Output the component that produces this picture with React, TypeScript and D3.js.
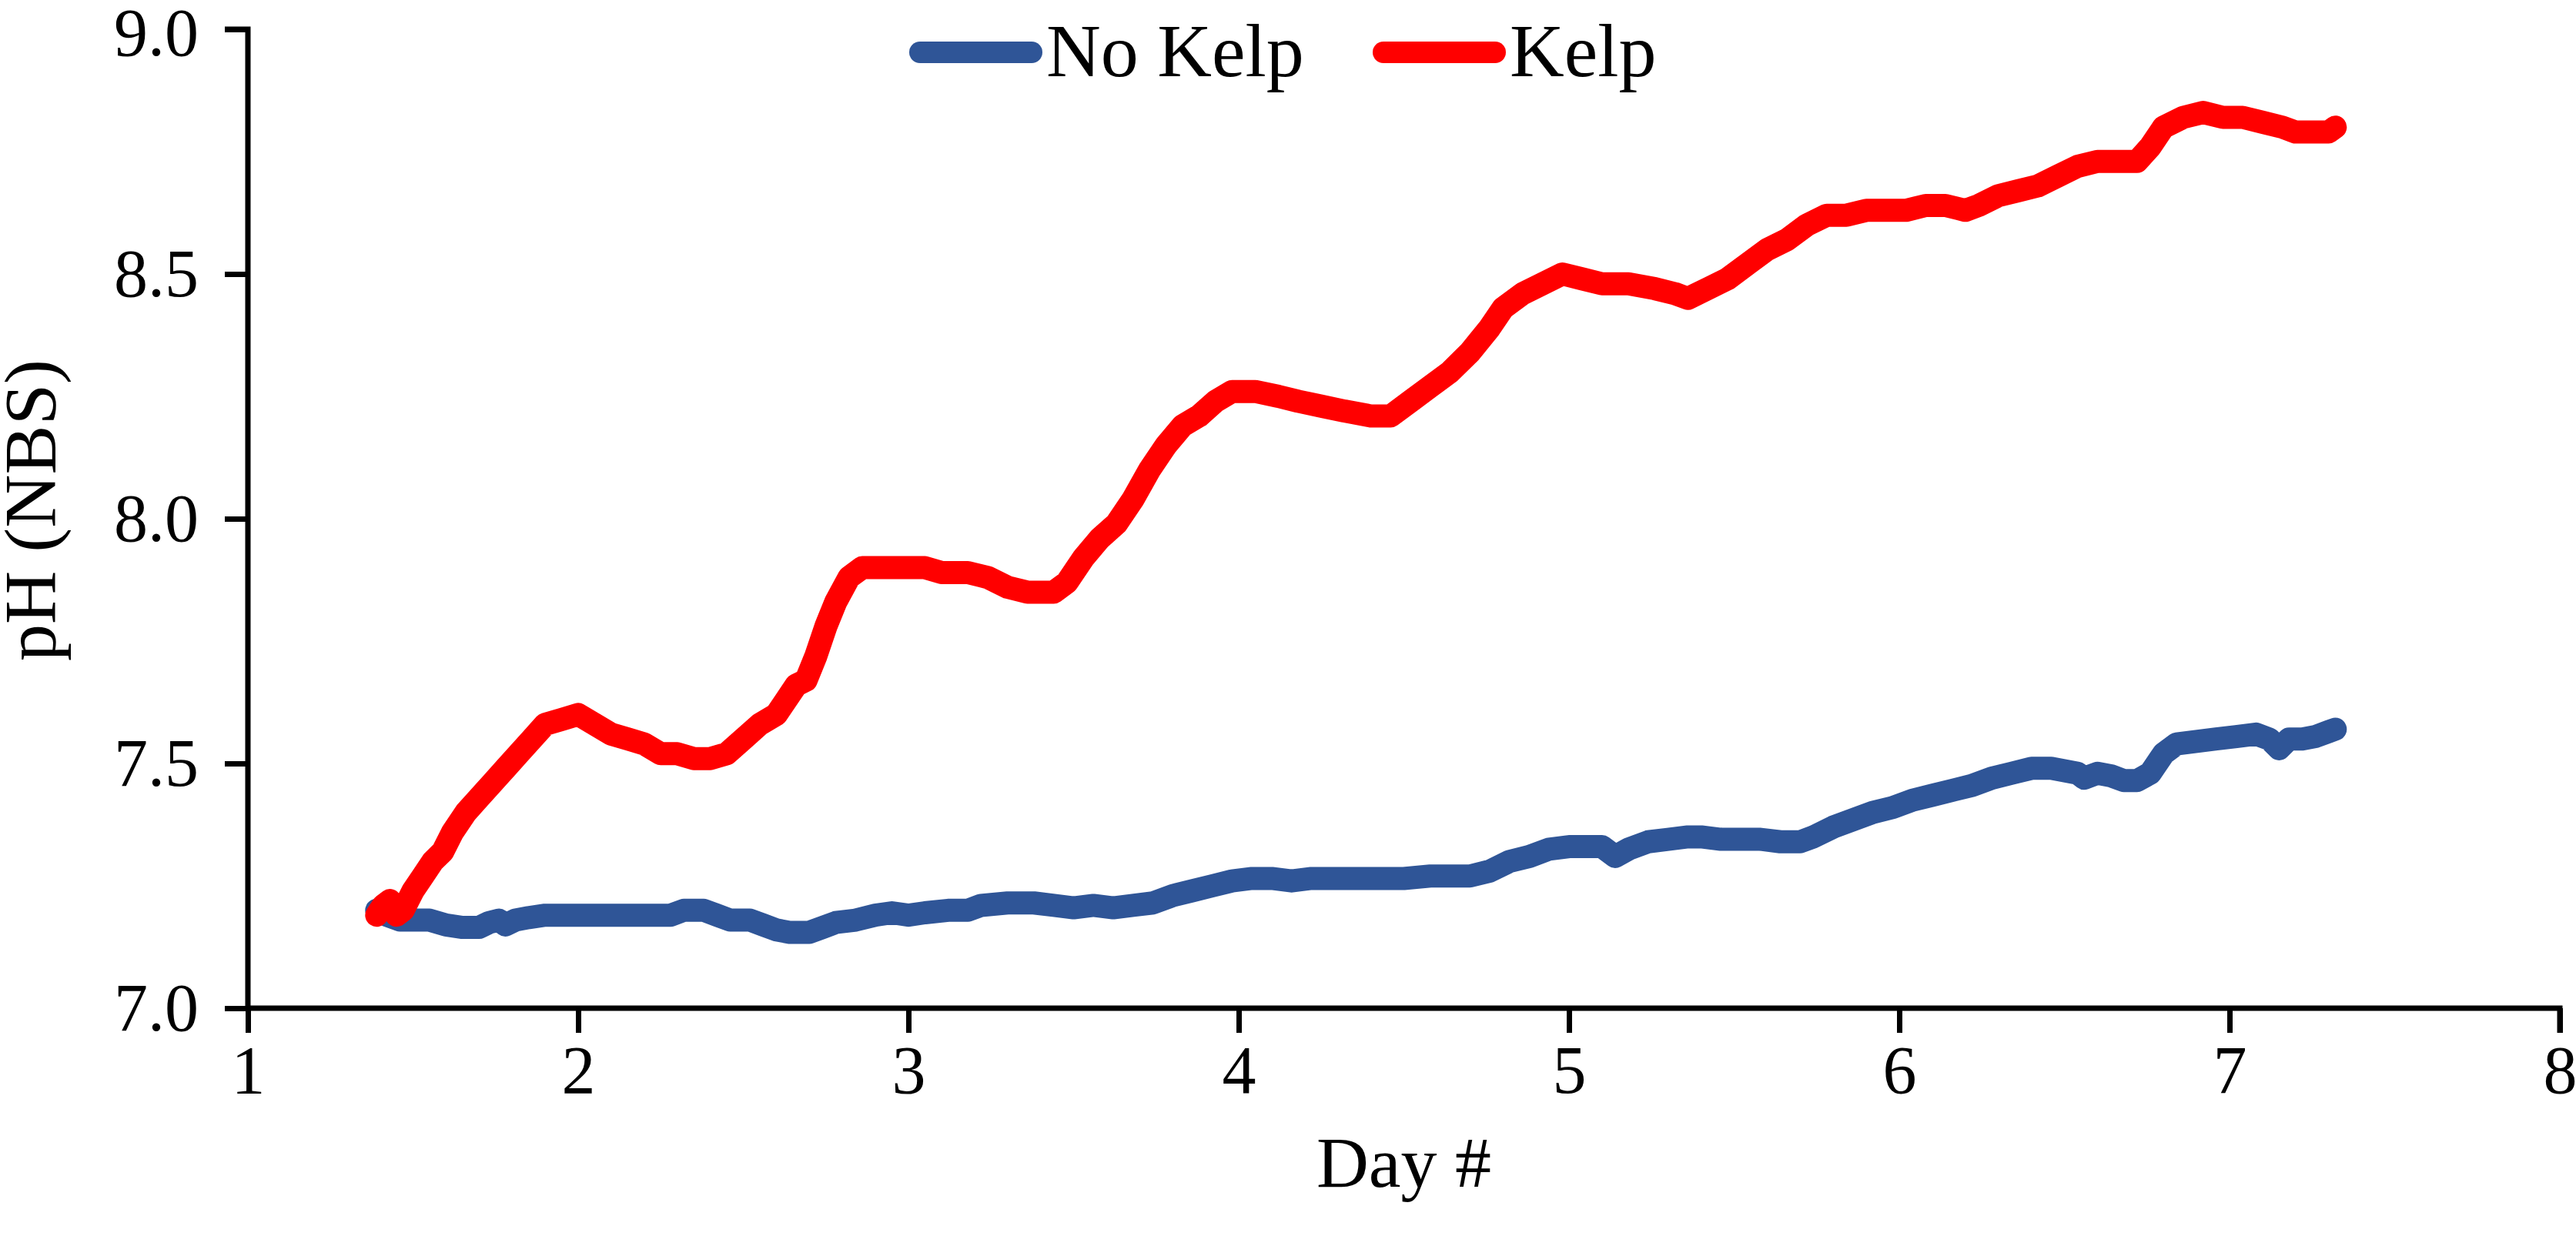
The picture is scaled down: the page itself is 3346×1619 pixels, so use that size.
import React, { useEffect, useRef } from 'react';
import * as d3 from 'd3';

// Kelp series (day, pH)
const kelpDays = [
  1.39, 1.41, 1.43, 1.45, 1.47, 1.5, 1.53, 1.56, 1.59, 1.62, 1.66, 1.7, 1.74, 1.78, 1.82, 1.86, 1.9, 1.95,
  2.0, 2.05, 2.1, 2.15, 2.2, 2.25, 2.3, 2.35, 2.4, 2.45, 2.5, 2.55, 2.6, 2.63, 2.66, 2.69, 2.72, 2.75, 2.78,
  2.82, 2.86, 2.92, 3.0, 3.05, 3.1, 3.18, 3.24, 3.3, 3.36, 3.44, 3.48, 3.53, 3.58, 3.63, 3.68, 3.73, 3.78,
  3.83, 3.88, 3.93, 3.98, 4.05, 4.12, 4.18, 4.25, 4.32, 4.4, 4.46, 4.52, 4.58, 4.64, 4.7, 4.76, 4.8, 4.86,
  4.92, 4.98, 5.04, 5.1, 5.18, 5.26, 5.32, 5.36, 5.42, 5.48, 5.54, 5.6, 5.66, 5.72, 5.78, 5.84, 5.9, 5.96,
  6.02, 6.08, 6.14, 6.2, 6.24, 6.3, 6.36, 6.42, 6.48, 6.54, 6.6, 6.66, 6.72, 6.76, 6.8, 6.86, 6.92, 6.98,
  7.04, 7.1, 7.16, 7.2, 7.26, 7.3, 7.32,
];
const kelpPH = [
  7.19, 7.21, 7.22, 7.19, 7.2, 7.24, 7.27, 7.3, 7.32, 7.36, 7.4, 7.43, 7.46, 7.49, 7.52, 7.55, 7.58, 7.59,
  7.6, 7.58, 7.56, 7.55, 7.54, 7.52, 7.52, 7.51, 7.51, 7.52, 7.55, 7.58, 7.6, 7.63, 7.66, 7.67, 7.72, 7.78, 7.83,
  7.88, 7.9, 7.9, 7.9, 7.9, 7.89, 7.89, 7.88, 7.86, 7.85, 7.85, 7.87, 7.92, 7.96, 7.99, 8.04, 8.1, 8.15,
  8.19, 8.21, 8.24, 8.26, 8.26, 8.25, 8.24, 8.23, 8.22, 8.21, 8.21, 8.24, 8.27, 8.3, 8.34, 8.39, 8.43, 8.46,
  8.48, 8.5, 8.49, 8.48, 8.48, 8.47, 8.46, 8.45, 8.47, 8.49, 8.52, 8.55, 8.57, 8.6, 8.62, 8.62, 8.63, 8.63,
  8.63, 8.64, 8.64, 8.63, 8.64, 8.66, 8.67, 8.68, 8.7, 8.72, 8.73, 8.73, 8.73, 8.76, 8.8, 8.82, 8.83, 8.82,
  8.82, 8.81, 8.8, 8.79, 8.79, 8.79, 8.8,
];

// No Kelp series (day, pH)
const noKelpDays = [
  1.39, 1.42, 1.46, 1.5, 1.55, 1.6, 1.65, 1.7, 1.73, 1.76, 1.78, 1.81, 1.85, 1.9, 2.0, 2.1, 2.2, 2.28, 2.32,
  2.38, 2.42, 2.46, 2.52, 2.56, 2.6, 2.64, 2.7, 2.74, 2.78, 2.84, 2.9, 2.95, 3.0, 3.05, 3.12, 3.18, 3.22,
  3.3, 3.38, 3.44, 3.5, 3.56, 3.62, 3.68, 3.74, 3.8, 3.86, 3.92, 3.98, 4.04, 4.1, 4.16, 4.22, 4.3, 4.4, 4.5,
  4.58, 4.64, 4.7, 4.76, 4.82, 4.88, 4.94, 5.0, 5.06, 5.1, 5.14, 5.18, 5.24, 5.3, 5.36, 5.4, 5.46, 5.52,
  5.58, 5.64, 5.7, 5.74, 5.8, 5.86, 5.92, 5.98, 6.04, 6.1, 6.16, 6.22, 6.28, 6.34, 6.4, 6.46, 6.5, 6.54,
  6.56, 6.6, 6.64, 6.68, 6.72, 6.76, 6.8, 6.84, 6.9, 6.96, 7.02, 7.08, 7.12, 7.15, 7.18, 7.22, 7.26, 7.3, 7.32,
];
const noKelpPH = [
  7.2, 7.19, 7.18, 7.18, 7.18, 7.17, 7.165, 7.165, 7.175, 7.18, 7.17, 7.18, 7.185, 7.19, 7.19, 7.19, 7.19, 7.19, 7.2,
  7.2, 7.19, 7.18, 7.18, 7.17, 7.16, 7.155, 7.155, 7.165, 7.175, 7.18, 7.19, 7.195, 7.19, 7.195, 7.2, 7.2, 7.21,
  7.215, 7.215, 7.21, 7.205, 7.21, 7.205, 7.21, 7.215, 7.23, 7.24, 7.25, 7.26, 7.265, 7.265, 7.26, 7.265, 7.265, 7.265, 7.265,
  7.27, 7.27, 7.27, 7.28, 7.3, 7.31, 7.325, 7.33, 7.33, 7.33, 7.31, 7.325, 7.34, 7.345, 7.35, 7.35, 7.345, 7.345,
  7.345, 7.34, 7.34, 7.35, 7.37, 7.385, 7.4, 7.41, 7.425, 7.435, 7.445, 7.455, 7.47, 7.48, 7.49, 7.49, 7.485, 7.48,
  7.47, 7.48, 7.475, 7.465, 7.465, 7.48, 7.52, 7.54, 7.545, 7.55, 7.555, 7.56, 7.55, 7.53, 7.55, 7.55, 7.555, 7.565, 7.57,
];

const xTicks = [1, 2, 3, 4, 5, 6, 7, 8];
const yTicks = [7.0, 7.5, 8.0, 8.5, 9.0];

const seriesNames = ['No Kelp', 'Kelp'];
const seriesColors = ['#2F5597', '#FF0000'];

const width = 3346;
const height = 1619;

const App: React.FC = () => {
  const svgRef = useRef<SVGSVGElement>(null);

  useEffect(() => {
    document.body.style.margin = '0';
    if (!svgRef.current) return;
    const svg = d3.select(svgRef.current);
    svg.selectAll('*').remove();

    const left = 322;
    const right = 3325;
    const top = 38;
    const bottom = 1310;
    const font = '"Liberation Serif", "Times New Roman", serif';

    const x = d3.scaleLinear().domain([1, 8]).range([left, right]);
    const y = d3.scaleLinear().domain([7, 9]).range([bottom, top]);

    // data lines
    const line = d3.line<[number, number]>()
      .x(d => x(d[0]))
      .y(d => y(d[1]));

    const series: [number, number][][] = [
      noKelpDays.map((d, i) => [d, noKelpPH[i]]),
      kelpDays.map((d, i) => [d, kelpPH[i]]),
    ];

    series.forEach((pts, i) => {
      svg.append('path')
        .attr('d', line(pts) as string)
        .attr('fill', 'none')
        .attr('stroke', seriesColors[i])
        .attr('stroke-width', 30)
        .attr('stroke-linecap', 'round')
        .attr('stroke-linejoin', 'round');
    });

    // axes
    const xAxis = svg.append('g')
      .attr('transform', `translate(0,${bottom})`)
      .call(d3.axisBottom(x).tickValues(xTicks).tickFormat(d3.format('d')).tickSize(32).tickPadding(16));
    const yAxis = svg.append('g')
      .attr('transform', `translate(${left},0)`)
      .call(d3.axisLeft(y).tickValues(yTicks).tickFormat(d3.format('.1f')).tickSize(30).tickPadding(34));

    [xAxis, yAxis].forEach(ax => {
      ax.select('.domain').attr('stroke', '#000').attr('stroke-width', 7);
      ax.selectAll('.tick line').attr('stroke', '#000').attr('stroke-width', 7);
      ax.selectAll('.tick text')
        .attr('fill', '#000')
        .style('font-family', font)
        .style('font-size', '88px');
    });
    xAxis.select('.domain').attr('d', `M${left},0H${right}V32`);
    yAxis.select('.domain').attr('d', `M-30,${top}H0V${bottom}`);
    // keep the top label inside the picture
    yAxis.selectAll<SVGTextElement, number>('.tick text')
      .filter(d => d === 9)
      .attr('dy', '0.38em');

    // axis titles
    svg.append('text')
      .attr('x', (left + right) / 2)
      .attr('y', 1542)
      .attr('text-anchor', 'middle')
      .style('font-family', font)
      .style('font-size', '94px')
      .text('Day #');

    svg.append('text')
      .attr('transform', `translate(72,663) rotate(-90)`)
      .attr('text-anchor', 'middle')
      .style('font-family', font)
      .style('font-size', '96px')
      .text('pH (NBS)');

    // legend
    const legendX = [1180, 1782];
    seriesNames.forEach((name, i) => {
      svg.append('line')
        .attr('x1', legendX[i] + 15)
        .attr('x2', legendX[i] + 160)
        .attr('y1', 68)
        .attr('y2', 68)
        .attr('stroke', seriesColors[i])
        .attr('stroke-width', 28)
        .attr('stroke-linecap', 'round');
      svg.append('text')
        .attr('x', legendX[i] + 179)
        .attr('y', 99)
        .style('font-family', font)
        .style('font-size', '98px')
        .text(name);
    });
  }, []);

  return (
    <svg
      ref={svgRef}
      width={width}
      height={height}
      style={{ display: 'block', background: '#fff' }}
    />
  );
};

export default App;
